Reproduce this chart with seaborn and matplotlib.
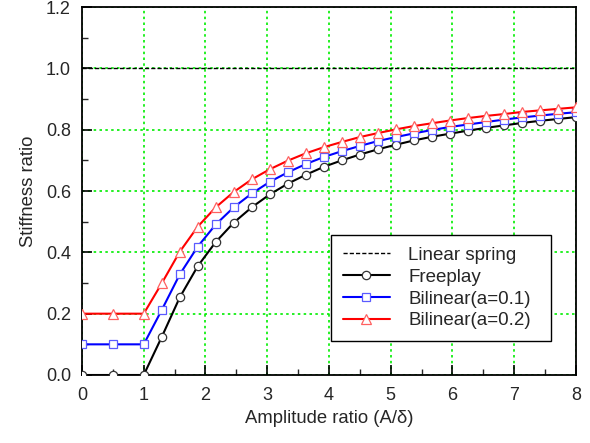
import numpy as np
import pandas as pd
import matplotlib
matplotlib.use("Agg")
import matplotlib.pyplot as plt
import seaborn as sns

# ---- data ----
amp = [0.0, 0.5, 1.0, 1.2917, 1.5833, 1.875, 2.1667, 2.4583, 2.75, 3.0417,
       3.3333, 3.625, 3.9167, 4.2083, 4.5, 4.7917, 5.0833, 5.375, 5.6667,
       5.9583, 6.25, 6.5417, 6.8333, 7.125, 7.4167, 7.7083, 8.0]
freeplay = [0.0, 0.0, 0.0, 0.124, 0.253, 0.355, 0.434, 0.497, 0.547, 0.589,
            0.624, 0.653, 0.679, 0.700, 0.719, 0.736, 0.751, 0.765, 0.777,
            0.787, 0.797, 0.806, 0.814, 0.822, 0.829, 0.835, 0.841]
bilin_01 = [0.100, 0.100, 0.100, 0.212, 0.328, 0.419, 0.491, 0.547, 0.592, 0.630,
            0.661, 0.688, 0.711, 0.730, 0.747, 0.763, 0.776, 0.788, 0.799,
            0.809, 0.817, 0.825, 0.833, 0.840, 0.846, 0.852, 0.857]
bilin_02 = [0.200, 0.200, 0.200, 0.299, 0.402, 0.484, 0.547, 0.597, 0.638, 0.671,
            0.699, 0.723, 0.743, 0.760, 0.776, 0.789, 0.801, 0.812, 0.821,
            0.830, 0.838, 0.845, 0.851, 0.858, 0.863, 0.868, 0.873]
linear_x = [0.0, 8.0]
linear_y = [1.0, 1.0]

df = pd.DataFrame({"amp": amp, "freeplay": freeplay,
                   "b01": bilin_01, "b02": bilin_02})
df_lin = pd.DataFrame({"amp": linear_x, "k": linear_y})

sns.set_style("ticks")
plt.rcParams['font.family'] = ['Liberation Sans', 'DejaVu Sans']

fig = plt.figure(figsize=(5.9, 4.43), dpi=100)
ax = fig.add_axes([0.139, 0.1535, 0.837, 0.8305])

ax.grid(True, which='major', color='#00ee00', linestyle=(0, (1.5, 2.0)), linewidth=1.2)
ax.set_axisbelow(True)

sns.lineplot(data=df_lin, x="amp", y="k", ax=ax, color='black', linewidth=1.0,
             label='Linear spring', zorder=3)
ax.lines[-1].set_dashes([3, 1.5])
sns.lineplot(data=df, x="amp", y="freeplay", ax=ax, color='black', linewidth=1.5,
             marker='o', markersize=6, markerfacecolor='white', markeredgecolor='#333333',
             markeredgewidth=0.9, label='Freeplay', zorder=4)
sns.lineplot(data=df, x="amp", y="b01", ax=ax, color='#0000ff', linewidth=1.5,
             marker='s', markersize=6, markerfacecolor='white', markeredgecolor='#5a5aff',
             markeredgewidth=0.9, label='Bilinear(a=0.1)', zorder=5)
sns.lineplot(data=df, x="amp", y="b02", ax=ax, color='#ff0000', linewidth=1.5,
             marker='^', markersize=7, markerfacecolor='white', markeredgecolor='#ff6060',
             markeredgewidth=0.9, label='Bilinear(a=0.2)', zorder=6)

ax.set_xlim(0, 8)
ax.set_ylim(0, 1.2)
ax.set_xticks(np.arange(0, 9, 1))
ax.set_xticklabels([str(i) for i in range(9)])
ax.set_yticks(np.arange(0, 1.21, 0.2))
ax.set_yticklabels(['0.0', '0.2', '0.4', '0.6', '0.8', '1.0', '1.2'])
ax.set_xticks(np.arange(0.5, 8, 1.0), minor=True)
ax.set_yticks(np.arange(0.1, 1.2, 0.2), minor=True)
ax.tick_params(which='major', direction='in', length=7, width=1.2, labelsize=13,
               top=False, right=False, color='black')
ax.tick_params(axis='x', which='major', pad=9)
ax.tick_params(axis='y', which='major', pad=8)
ax.tick_params(which='minor', direction='in', length=4, width=1.0,
               top=False, right=False)

for s in ax.spines.values():
    s.set_visible(True)
    s.set_color('black')
    s.set_linewidth(1.3)

ax.set_xlabel('Amplitude ratio (A/δ)', fontsize=13.3, labelpad=4)
ax.set_ylabel('Stiffness ratio', fontsize=13.3, labelpad=6)

leg = ax.legend(loc='lower left', bbox_to_anchor=(0.504, 0.092, 0.445, 0.296),
                mode='expand', fontsize=13.5, frameon=True, fancybox=False,
                edgecolor='black', framealpha=1.0, borderpad=0.63, labelspacing=0.25,
                handlelength=2.5, handletextpad=1.0, borderaxespad=0.0)
leg.get_frame().set_linewidth(1.0)
leg.set_zorder(10)

fig.savefig('out.png', dpi=100)
